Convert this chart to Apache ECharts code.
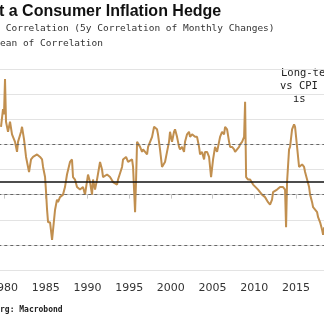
<!DOCTYPE html>
<html>
<head>
<meta charset="utf-8">
<script src="https://cdn.jsdelivr.net/npm/echarts@6/dist/echarts.min.js"></script>
<style>
html,body{margin:0;padding:0;background:#fff;}
#chart{width:324px;height:321px;}
</style>
</head>
<body>
<div id="chart"></div>
<script>
// Decimal years of the read points
var years = [1979.64,1979.88,1980.0,1980.12,1980.24,1980.48,1980.72,1980.96,1981.32,1981.56,1981.68,1982.04,1982.16,1982.40,1982.64,1982.88,1983.00,1983.24,1983.48,1983.96,1984.32,1984.56,1984.68,1984.92,1985.04,1985.16,1985.28,1985.52,1985.76,1985.88,1986.12,1986.35,1986.47,1986.71,1987.07,1987.31,1987.55,1987.91,1988.15,1988.27,1988.51,1988.75,1989.11,1989.47,1989.71,1990.07,1990.31,1990.55,1990.67,1990.91,1991.15,1991.51,1991.75,1991.87,1992.35,1992.71,1993.07,1993.55,1993.67,1994.15,1994.27,1994.63,1994.87,1995.35,1995.47,1995.59,1995.71,1995.83,1995.95,1996.07,1996.31,1996.55,1996.67,1997.15,1997.27,1997.51,1997.75,1997.99,1998.34,1998.46,1998.70,1998.94,1999.30,1999.54,1999.78,1999.90,2000.14,2000.38,2000.50,2000.74,2000.98,2001.10,2001.34,2001.58,2001.70,2001.94,2002.18,2002.30,2002.54,2002.90,2003.14,2003.38,2003.50,2003.74,2003.98,2004.10,2004.34,2004.58,2004.70,2004.82,2005.06,2005.30,2005.54,2005.78,2005.90,2006.14,2006.38,2006.50,2006.74,2006.98,2007.10,2007.34,2007.58,2007.70,2007.94,2008.18,2008.30,2008.54,2008.78,2008.90,2009.02,2009.26,2009.50,2009.86,2010.09,2010.45,2010.93,2011.29,2011.65,2011.89,2012.13,2012.25,2012.73,2013.09,2013.45,2013.69,2013.81,2013.93,2014.17,2014.29,2014.53,2014.77,2014.89,2015.13,2015.37,2015.49,2015.73,2015.97,2016.09,2016.33,2016.57,2016.69,2016.93,2017.05,2017.53,2017.65,2017.89,2018.13,2018.25,2018.37];
// 5y correlation of monthly changes
var correlation = [0.27,0.34,0.32,0.46,0.29,0.25,0.29,0.24,0.21,0.17,0.21,0.25,0.27,0.22,0.15,0.11,0.09,0.14,0.15,0.16,0.15,0.14,0.11,0.07,0.01,-0.06,-0.11,-0.11,-0.18,-0.14,-0.06,-0.02,-0.03,-0.01,0.00,0.03,0.08,0.13,0.14,0.07,0.06,0.03,0.02,0.03,0.00,0.08,0.05,0.00,0.06,0.02,0.06,0.13,0.10,0.07,0.08,0.07,0.05,0.04,0.06,0.11,0.14,0.15,0.13,0.14,0.11,0.02,-0.07,0.06,0.21,0.21,0.19,0.17,0.18,0.16,0.19,0.21,0.23,0.27,0.26,0.24,0.18,0.11,0.13,0.17,0.21,0.25,0.21,0.25,0.26,0.23,0.19,0.18,0.19,0.17,0.21,0.24,0.25,0.23,0.24,0.23,0.23,0.19,0.16,0.17,0.14,0.17,0.17,0.15,0.11,0.07,0.14,0.19,0.17,0.21,0.23,0.25,0.24,0.27,0.26,0.21,0.19,0.19,0.18,0.17,0.18,0.19,0.20,0.21,0.23,0.37,0.07,0.06,0.06,0.04,0.04,0.02,0.00,-0.01,-0.03,-0.04,-0.02,0.01,0.02,0.03,0.03,0.02,-0.13,0.05,0.18,0.19,0.26,0.28,0.27,0.19,0.11,0.11,0.12,0.11,0.09,0.06,0.03,0.00,-0.03,-0.05,-0.07,-0.09,-0.11,-0.14,-0.16,-0.13];
var meanValue = 0.05;
var dashedLevels = [0.2, 0.0, -0.2];
var titleText = 't a Consumer Inflation Hedge';
var legendLines = [' Correlation (5y Correlation of Monthly Changes)', 'ean of Correlation'];
var noteLines = ['Long-te', 'vs CPI', 'is'];
var sourceText = 'rg: Macrobond';

var seriesData = years.map(function (y, i) { return [y, correlation[i]]; });

var chart = echarts.init(document.getElementById('chart'), null, {renderer: 'canvas'});
var mono = '"DejaVu Sans Mono", "Liberation Mono", monospace';
chart.setOption({
  animation: false,
  backgroundColor: '#ffffff',
  grid: {left: -37.7, right: -13.7, top: 69, bottom: 51, containLabel: false, outerBoundsMode: 'none'},
  xAxis: {
    type: 'value', min: 1975, max: 2020, interval: 5,
    offset: 7,
    axisLine: {show: true, lineStyle: {color: '#c8c8c8', width: 1}},
    axisTick: {show: true, length: 4, lineStyle: {color: '#c8c8c8'}},
    axisLabel: {color: '#333', fontSize: 11, fontFamily: '"DejaVu Sans", sans-serif', margin: 6,
      hideOverlap: false, showMinLabel: true, showMaxLabel: true,
      formatter: function (v) { return String(v); }},
    splitLine: {show: false}
  },
  yAxis: {
    type: 'value', min: -0.3, max: 0.5, interval: 0.1, position: 'right',
    axisLine: {show: false}, axisTick: {show: false}, axisLabel: {show: false},
    splitLine: {show: true, lineStyle: {color: '#e3e3e3', width: 1}}
  },
  series: [{
    type: 'line', data: seriesData, symbol: 'none', clip: true,
    lineStyle: {color: '#c18f4f', width: 2},
    z: 3,
    markLine: {
      silent: true, symbol: 'none', label: {show: false},
      data: dashedLevels.map(function (v) {
        return {yAxis: v, lineStyle: {type: [3, 3], color: '#666', width: 1}};
      }).concat([{yAxis: meanValue, lineStyle: {type: 'solid', color: '#111', width: 1.5}}])
    }
  }],
  graphic: [
    {type: 'text', left: -1, top: 4, style: {text: titleText, font: 'bold 16px "Liberation Sans", Arial, sans-serif', fill: '#111'}},
    {type: 'text', left: 0, top: 24, style: {text: legendLines[0], font: '9.5px ' + mono, fill: '#333'}},
    {type: 'text', left: 0, top: 39, style: {text: legendLines[1], font: '9.5px ' + mono, fill: '#333'}},
    {type: 'text', left: 281, top: 68, style: {text: noteLines[0], font: '10.5px ' + mono, fill: '#222'}},
    {type: 'text', left: 280, top: 81, style: {text: noteLines[1], font: '10.5px ' + mono, fill: '#222'}},
    {type: 'text', left: 293, top: 94, style: {text: noteLines[2], font: '10.5px ' + mono, fill: '#222'}},
    {type: 'text', left: 0, top: 306, style: {text: sourceText, font: 'bold 8px ' + mono, fill: '#222'}}
  ]
});
</script>
</body>
</html>
